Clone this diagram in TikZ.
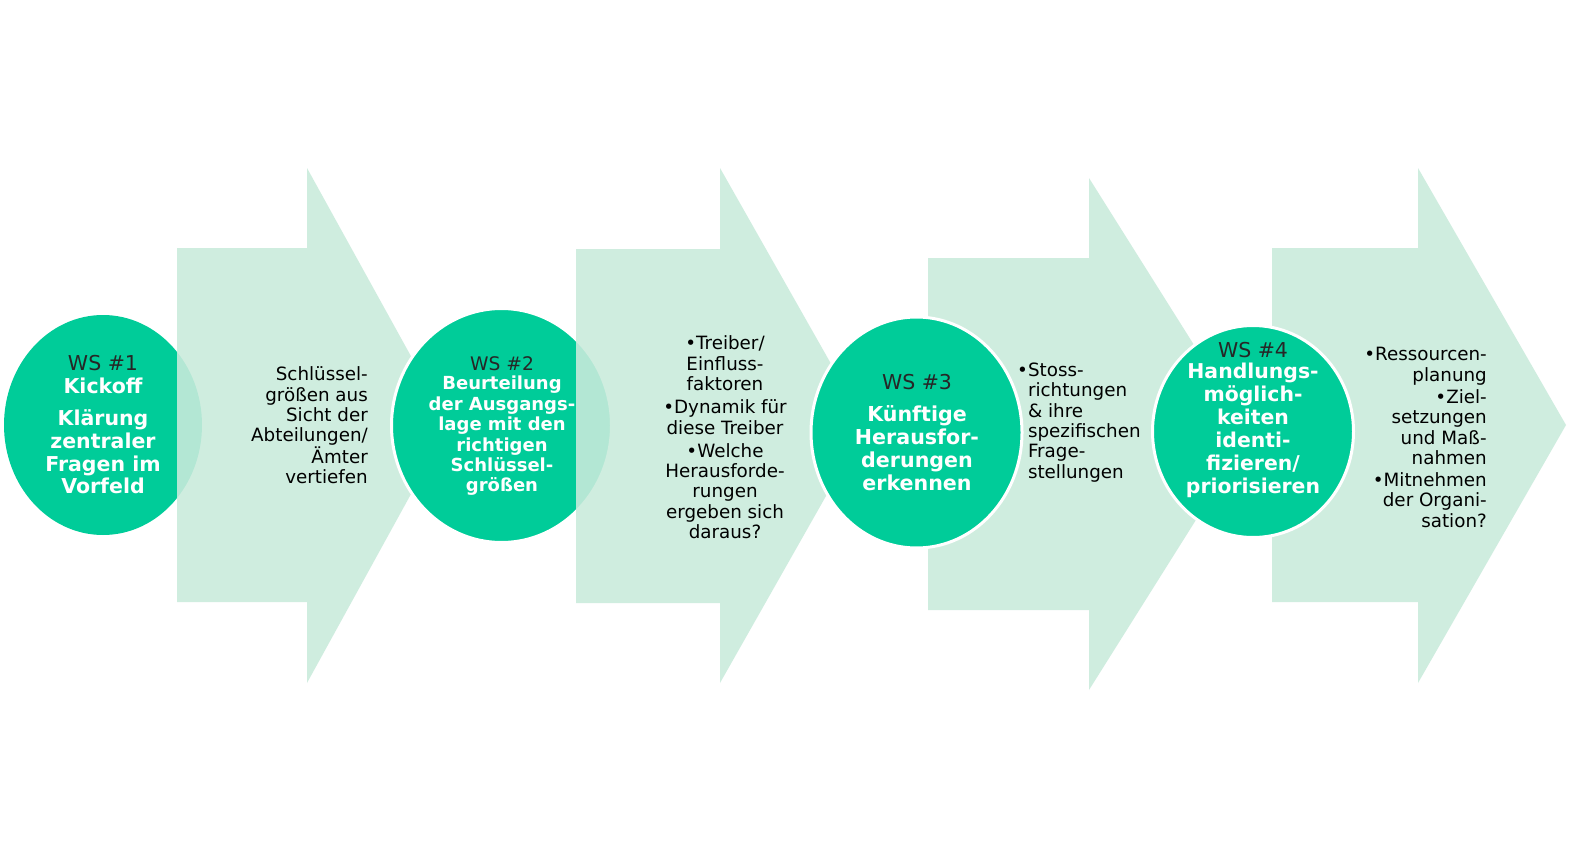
\documentclass[tikz,border=0pt]{standalone}
\usepackage{fontspec}
\setmainfont{DejaVu Sans}
\usetikzlibrary{shapes.geometric}
\definecolor{mint}{RGB}{202,235,220}
\definecolor{wsgreen}{RGB}{0,204,153}
\definecolor{dark}{RGB}{38,38,38}
\tikzset{
  arrowshape/.style={fill=mint, fill opacity=0.89, draw=none},
  ws/.style={ellipse, fill=wsgreen, draw=white, line width=3pt, inner sep=0pt},
  wslabel/.style={text=dark, font=\fontsize{20.5}{22}\selectfont, inner sep=0pt},
  boldtxt/.style={text=white, font=\bfseries\fontsize{20.5}{22.8}\selectfont, align=center, inner sep=0pt},
  armtxt/.style={text=black, font=\fontsize{18.3}{20.4}\selectfont, inner sep=0pt},
}
\begin{document}
\begin{tikzpicture}[x=1pt,y=-1pt]
\useasboundingbox[fill=white] (0,0) rectangle (1569,851);

% circle 1 and arrow 1
\node[ws, draw=none, minimum width=198pt, minimum height=220pt] (c1) at (103,425) {};
\fill[arrowshape] (177,248) -- (307,248) -- (307,168) -- (449,425) -- (307,683) -- (307,602) -- (177,602) -- cycle;
% circle 2 and arrow 2
\node[ws, minimum width=220pt, minimum height=234pt] (c2) at (501.5,425.5) {};
\fill[arrowshape] (576,249) -- (720,249) -- (720,168) -- (866,425.5) -- (720,683) -- (720,603) -- (576,603) -- cycle;
% arrow 3 and circle 3
\fill[arrowshape] (928,258) -- (1089,258) -- (1089,178) -- (1250,434) -- (1089,690) -- (1089,610) -- (928,610) -- cycle;
\node[ws, minimum width=211pt, minimum height=231pt] (c3) at (916.5,432.5) {};
% arrow 4 and circle 4
\fill[arrowshape] (1272,248) -- (1418,248) -- (1418,168) -- (1566,425) -- (1418,683) -- (1418,602) -- (1272,602) -- cycle;
\node[ws, minimum width=201pt, minimum height=212pt] (c4) at (1253,431.5) {};

% circle texts
\node[wslabel] (w1) at (103,363) {WS \#1};
\node[boldtxt] (k1) at (103,386) {Kickoff};
\node[boldtxt] (t1) at (103,452) {Klärung\\zentraler\\Fragen im\\Vorfeld};

\node[wslabel, font=\fontsize{18.7}{20}\selectfont] (w2) at (502,364) {WS \#2};
\node[boldtxt, font=\bfseries\fontsize{18}{20.4}\selectfont] (t2) at (502,436) {Beurteilung\\der Ausgangs-\\lage mit den\\richtigen\\Schlüssel-\\größen};

\node[wslabel] (w3) at (917,382) {WS \#3};
\node[boldtxt, font=\bfseries\fontsize{20.6}{23}\selectfont] (t3) at (917,448.5) {Künftige\\Herausfor-\\derungen\\erkennen};

\node[wslabel] (w4) at (1253,350) {WS \#4};
\node[boldtxt, font=\bfseries\fontsize{20.4}{23}\selectfont] (t4) at (1253,430.5) {Handlungs-\\möglich-\\keiten\\identi-\\fizieren/\\priorisieren};

% arrow texts
\node[armtxt, align=right, anchor=east] (x1) at (368,425.5) {Schlüssel-\\größen aus\\Sicht der\\Abteilungen/\\Ämter\\vertiefen};
\node[armtxt, align=center] (x2) at (725,437.5) {•Treiber/\\Einfluss-\\faktoren\\[2.6pt]•Dynamik für\\diese Treiber\\[2.6pt]•Welche\\Herausforde-\\rungen\\ergeben sich\\daraus?};
\node[armtxt, align=left, anchor=west] (x3) at (1017,422.5) {•Stoss-\\\phantom{•}richtungen\\\phantom{•}\& ihre\\\phantom{•}spezifischen\\\phantom{•}Frage-\\\phantom{•}stellungen};
\node[armtxt, align=right, anchor=east] (x4) at (1487,437.5) {•Ressourcen-\\planung\\[1.5pt]•Ziel-\\setzungen\\und Maß-\\nahmen\\[1.5pt]•Mitnehmen\\der Organi-\\sation?};
\end{tikzpicture}
\end{document}
